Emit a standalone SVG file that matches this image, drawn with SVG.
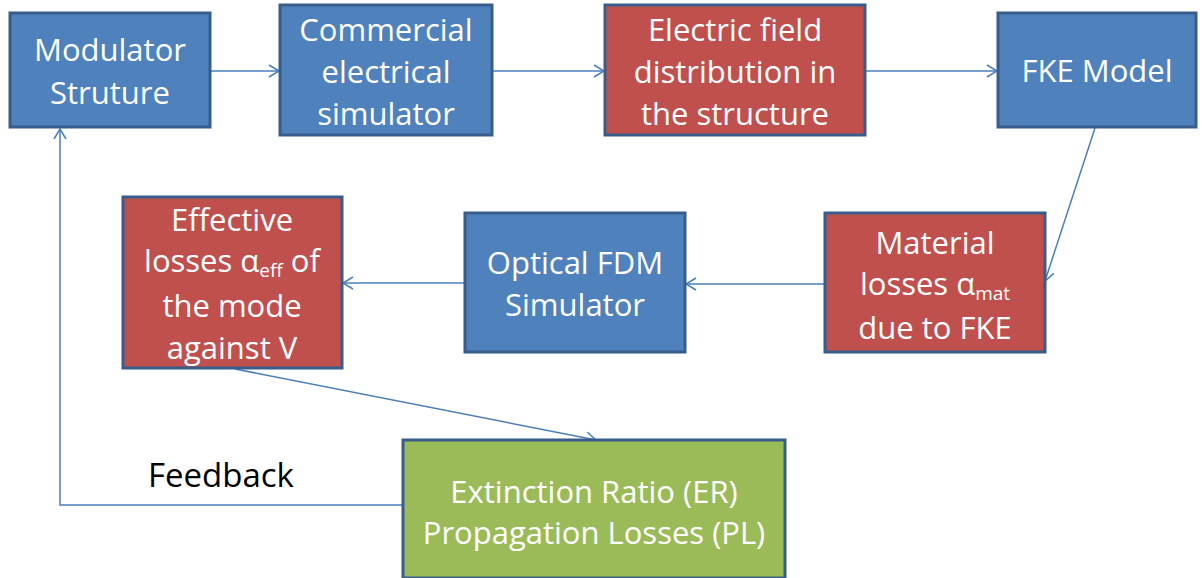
<svg xmlns="http://www.w3.org/2000/svg" width="1202" height="578" viewBox="0 0 1202 578">
<style>
.b{fill:#4F81BD;stroke:#385D8A;stroke-width:3}
.r{fill:#C0504D;stroke:#385D8A;stroke-width:3}
.g{fill:#9BBB59;stroke:#385D8A;stroke-width:3}
text{font-family:"Open Sans","Liberation Sans",sans-serif;font-size:31px;fill:#fff;text-anchor:middle}
.k{fill:#000;text-anchor:start;font-size:33px}
.s{font-size:19px}
.c{fill:none;stroke:#4A7EBB;stroke-width:1.5}
</style>
<defs>
<marker id="a" markerWidth="14" markerHeight="14" refX="12" refY="7" orient="auto" markerUnits="userSpaceOnUse">
<path d="M2,1 L12,7 L2,13" fill="none" stroke="#4A7EBB" stroke-width="1.5"/>
</marker>
</defs>
<g id="connectors">
<line class="c" x1="210" y1="71" x2="279" y2="71" marker-end="url(#a)"/>
<line class="c" x1="492" y1="71" x2="604" y2="71" marker-end="url(#a)"/>
<line class="c" x1="865" y1="71" x2="997" y2="71" marker-end="url(#a)"/>
<line class="c" x1="1095" y1="128" x2="1045" y2="281" marker-end="url(#a)"/>
<line class="c" x1="825" y1="284" x2="686" y2="284" marker-end="url(#a)"/>
<line class="c" x1="465" y1="283" x2="343" y2="283" marker-end="url(#a)"/>
<line class="c" x1="235" y1="369" x2="596" y2="440" marker-end="url(#a)"/>
<polyline class="c" points="403,505 60,505 60,129" marker-end="url(#a)"/>
</g>
<g id="n1"><rect class="b" x="10" y="13" width="200" height="114"/><text x="110" y="61">Modulator</text><text x="110" y="104">Struture</text></g>
<g id="n2"><rect class="b" x="280" y="5" width="212" height="130"/><text x="386" y="41">Commercial</text><text x="386" y="83">electrical</text><text x="386" y="125">simulator</text></g>
<g id="n3"><rect class="r" x="605" y="5" width="260" height="130"/><text x="735" y="41">Electric field</text><text x="735" y="83">distribution in</text><text x="735" y="125">the structure</text></g>
<g id="n4"><rect class="b" x="998" y="13" width="198" height="114"/><text x="1097" y="82">FKE Model</text></g>
<g id="n5"><rect class="r" x="825" y="213" width="220" height="139"/><text x="935" y="254">Material</text><text x="935" y="295">losses α<tspan class="s" dy="5">mat</tspan></text><text x="935" y="339">due to FKE</text></g>
<g id="n6"><rect class="b" x="465" y="213" width="220" height="139"/><text x="575" y="274">Optical FDM</text><text x="575" y="316">Simulator</text></g>
<g id="n7"><rect class="r" x="123" y="197" width="219" height="171"/><text x="232" y="231">Effective</text><text x="232" y="272">losses α<tspan class="s" dy="5">eff</tspan><tspan dy="-5"> of</tspan></text><text x="232" y="317">the mode</text><text x="232" y="359">against V</text></g>
<g id="n8"><rect class="g" x="403" y="440" width="382" height="138"/><text x="594" y="503">Extinction Ratio (ER)</text><text x="594" y="544">Propagation Losses (PL)</text></g>
<g id="feedback"><text class="k" x="148" y="487">Feedback</text></g>
</svg>
